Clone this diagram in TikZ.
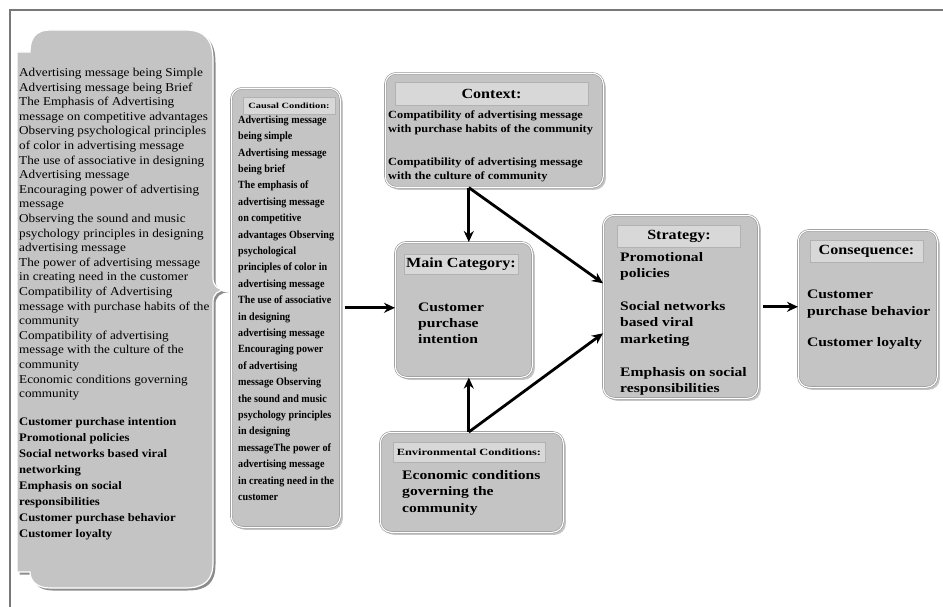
\documentclass[tikz,border=0pt]{standalone}
\usepackage{fontspec}
\setmainfont{Liberation Serif}
\newfontfamily\lserif[FakeStretch=1.1]{Liberation Serif}
\newfontfamily\cserif[FakeStretch=0.92]{Liberation Serif}
\newfontfamily\wserif[FakeStretch=1.2]{Liberation Serif}
\newfontfamily\xserif[FakeStretch=1.12]{Liberation Serif}
\newfontfamily\tserif[FakeStretch=1.15]{Liberation Serif}
\newfontfamily\eserif[FakeStretch=1.3]{Liberation Serif}
\usetikzlibrary{arrows.meta,shadows,calc}
\definecolor{boxfill}{RGB}{196,196,196}
\definecolor{titlefill}{RGB}{216,216,216}
\definecolor{rimgray}{RGB}{150,150,150}
\definecolor{shadowgray}{RGB}{140,140,140}
\definecolor{framegray}{RGB}{120,120,120}
\tikzset{
  panel/.style={draw=rimgray, double=white, double distance=1.1pt, line width=0.6pt,
    fill=boxfill, rounded corners=11pt, inner sep=0pt, anchor=north west,
    drop shadow={shadow xshift=2.5pt, shadow yshift=-2.5pt, fill=shadowgray}},
  ttl/.style={fill=titlefill, draw=gray!60, line width=0.6pt, inner sep=0pt},
  body/.style={anchor=north west, inner sep=0pt, align=left},
  arr/.style={line width=2.8pt, -{Stealth[length=11pt,width=10pt]}}
}
\begin{document}
\begin{tikzpicture}[x=1pt,y=-1pt]
\useasboundingbox (0,0) rectangle (943,607);
\fill[white] (0,0) rectangle (943,607);
\draw[framegray, line width=2.5pt] (10,607) -- (10,10) -- (943,10);

% left brace-shaped list
\begin{scope}[xshift=2.5pt, yshift=-2.5pt]
\fill[shadowgray] (17,52) -- (30,52) .. controls (30,38) and (36,30) .. (50,30) -- (185,30)
  .. controls (205,30) and (213,40) .. (213,60) -- (213,278)
  .. controls (213,286) and (218,290) .. (226,290)
  .. controls (218,290) and (213,294) .. (213,302) -- (213,562)
  .. controls (213,580) and (205,588) .. (185,588) -- (50,588)
  .. controls (36,588) and (30,580) .. (30,572) -- (17,572) -- cycle;
\end{scope}
\filldraw[fill=boxfill, draw=white, line width=1.2pt] (17,52) -- (30,52) .. controls (30,38) and (36,30) .. (50,30) -- (185,30)
  .. controls (205,30) and (213,40) .. (213,60) -- (213,278)
  .. controls (213,286) and (218,290) .. (226,290)
  .. controls (218,290) and (213,294) .. (213,302) -- (213,562)
  .. controls (213,580) and (205,588) .. (185,588) -- (50,588)
  .. controls (36,588) and (30,580) .. (30,572) -- (17,572) -- cycle;

\node[body, font=\lserif\fontsize{12}{14.6}\selectfont] (list) at (19,68) {%
Advertising message being Simple\\
Advertising message being Brief\\
The Emphasis of Advertising\\
message on competitive advantages\\
Observing psychological principles\\
of color in advertising message\\
The use of associative in designing\\
Advertising message\\
Encouraging power of advertising\\
message\\
Observing the sound and music\\
psychology principles in designing\\
advertising message\\
The power of advertising message\\
in creating need in the customer\\
Compatibility of Advertising\\
message with purchase habits of the\\
community\\
Compatibility of advertising\\
message with the culture of the\\
community\\
Economic conditions governing\\
community};
\node[body, font=\lserif\bfseries\fontsize{11.5}{16}\selectfont] (listb) at (19,417) {%
Customer purchase intention\\
Promotional policies\\
Social networks based viral\\
networking\\
Emphasis on social\\
responsibilities\\
Customer purchase behavior\\
Customer loyalty};

% panels
\node[panel, minimum width=109pt, minimum height=439pt] (causal) at (231,88) {};
\node[panel, minimum width=218pt, minimum height=114pt] (context) at (385,73) {};
\node[panel, minimum width=137pt, minimum height=135pt] (main) at (395,242) {};
\node[panel, minimum width=183pt, minimum height=100pt] (env) at (380,432) {};
\node[panel, minimum width=155pt, minimum height=183pt] (strategy) at (603,215) {};
\node[panel, minimum width=139pt, minimum height=157pt] (conseq) at (798,230) {};

% titles
\node[ttl, minimum width=92pt, minimum height=17pt, font=\eserif\bfseries\fontsize{8}{9}\selectfont] (causalT) at (289,105.5) {Causal Condition:};
\node[ttl, minimum width=193pt, minimum height=23pt, font=\tserif\bfseries\fontsize{14}{16}\selectfont] (contextT) at (491.5,93.5) {Context:};
\node[ttl, minimum width=114pt, minimum height=20pt, font=\tserif\bfseries\fontsize{14}{16}\selectfont] (mainT) at (461,264) {Main Category:};
\node[ttl, minimum width=152pt, minimum height=20pt, font=\eserif\bfseries\fontsize{9.5}{11}\selectfont] (envT) at (469,452.5) {Environmental Conditions:};
\node[ttl, minimum width=123pt, minimum height=22pt, font=\tserif\bfseries\fontsize{14}{16}\selectfont] (strategyT) at (679,236) {Strategy:};
\node[ttl, minimum width=113pt, minimum height=22pt, font=\tserif\bfseries\fontsize{14}{16}\selectfont] (conseqT) at (866.5,251) {Consequence:};

% bodies
\node[body, font=\cserif\bfseries\fontsize{11}{16.4}\selectfont] (causalB) at (238,115.5) {%
Advertising message\\
being simple\\
Advertising message\\
being brief\\
The emphasis of\\
advertising message\\
on competitive\\
advantages Observing\\
psychological\\
principles of color in\\
advertising message\\
The use of associative\\
in designing\\
advertising message\\
Encouraging power\\
of advertising\\
message Observing\\
the sound and music\\
psychology principles\\
in designing\\
messageThe power of\\
advertising message\\
in creating need in the\\
customer};
\node[body, font=\xserif\bfseries\fontsize{11}{14}\selectfont] (contextB) at (388,110.5) {%
Compatibility of advertising message\\
with purchase habits of the community\\[19pt]
Compatibility of advertising message\\
with the culture of community};
\node[body, font=\wserif\bfseries\fontsize{13}{16}\selectfont] (mainB) at (418,303) {%
Customer\\ purchase\\ intention};
\node[body, font=\wserif\bfseries\fontsize{13}{16.5}\selectfont] (envB) at (402,470) {%
Economic conditions\\ governing the\\ community};
\node[body, font=\wserif\bfseries\fontsize{13}{16.4}\selectfont] (strategyB) at (620,252) {%
Promotional\\ policies\\[16.4pt]
Social networks\\ based viral\\ marketing\\[16.4pt]
Emphasis on social\\ responsibilities};
\node[body, font=\wserif\bfseries\fontsize{13}{16.4}\selectfont] (conseqB) at (807,290) {%
Customer\\ purchase behavior\\[15pt]
Customer loyalty};

% connectors
\coordinate (cj) at ($(main.north |- context.south)+(5,0)$);
\coordinate (ej) at ($(main.south |- env.north)+(5,0)$);
\draw[arr, shorten <=4pt] (causal.east) -- (causal.east -| main.west);
\draw[arr] (cj) -- (cj |- main.north);
\draw[arr] (cj) -- ($(strategy.west)+(0,-23.5)$);
\draw[arr] (ej) -- (ej |- main.south);
\draw[arr] (ej) -- ($(strategy.west)+(0,26.5)$);
\draw[arr, shorten <=4pt] (strategy.east) -- (strategy.east -| conseq.west);
\end{tikzpicture}
\end{document}
